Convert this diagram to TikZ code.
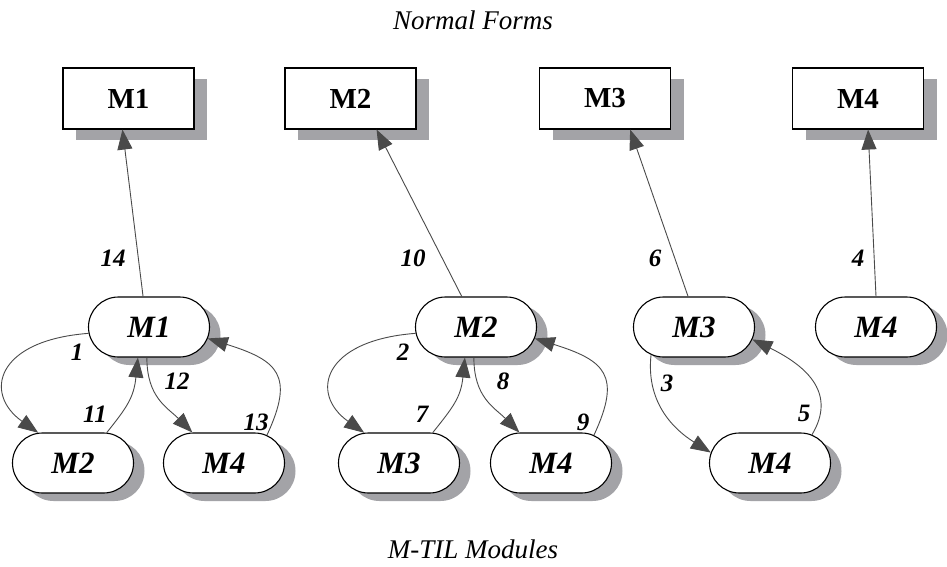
\documentclass[tikz,border=0pt]{standalone}
\usepackage{fontspec}
\setmainfont{Liberation Serif}
\usetikzlibrary{shapes.misc,shadows,arrows.meta}

\definecolor{shadowgray}{HTML}{A3A3A7}
\definecolor{linkgray}{HTML}{4A4A4A}

\tikzset{
  formbox/.style={rectangle, draw=black, line width=1.1pt, fill=white,
    minimum width=131pt, minimum height=61pt, inner sep=0pt,
    font=\fontsize{29}{31}\selectfont\bfseries,
    drop shadow={shadow xshift=13pt, shadow yshift=-11pt, fill=shadowgray, opacity=1}},
  modnode/.style={rounded rectangle, draw=black, line width=1.1pt, fill=white,
    minimum width=121pt, minimum height=60pt, inner sep=0pt,
    font=\fontsize{31}{33}\selectfont\bfseries\itshape,
    drop shadow={shadow xshift=11pt, shadow yshift=-8pt, fill=shadowgray, opacity=1}},
  steplabel/.style={font=\fontsize{25}{27}\selectfont\bfseries\itshape, inner sep=1pt},
  caption/.style={font=\fontsize{27}{29}\selectfont\itshape},
  link/.style={draw=linkgray, line width=0.9pt,
    -{Triangle[length=20pt, width=15pt]}, color=linkgray},
}

\begin{document}
\begin{tikzpicture}[x=1pt, y=-1pt]
  \useasboundingbox (0,0) rectangle (947,567);

  % captions
  \node[caption] (topcap) at (473,20) {Normal Forms};
  \node[caption] (botcap) at (473,549) {M-TIL Modules};

  % normal forms
  \node[formbox] (B1) at (128.5,98.5) {M1};
  \node[formbox] (B2) at (350.5,98.5) {M2};
  \node[formbox] (B3) at (605,98.5) {M3};
  \node[formbox] (B4) at (858,98.5) {M4};

  % first module tree
  \node[modnode] (A1) at (149,327) {M1};
  \node[modnode] (A2) at (73,463) {M2};
  \node[modnode] (A4) at (224,463) {M4};

  % second module tree
  \node[modnode] (C2) at (476,327) {M2};
  \node[modnode] (C3) at (399,463) {M3};
  \node[modnode] (C4) at (551,463) {M4};

  % third module tree
  \node[modnode] (D3) at (694,327) {M3};
  \node[modnode] (D4) at (770,463) {M4};

  % single module
  \node[modnode] (E4) at (876,327) {M4};

  % links to the normal forms
  \draw[link] (A1.101) -- (B1.259);
  \draw[link] (C2.115) -- (B2.310.5);
  \draw[link] (D3.101) -- (B3.309);
  \draw[link] (E4.90) -- (B4.288);

  % first tree
  \draw[link] (A1.186) .. controls +(-93,7) and +(-55,-39) .. (A2.139);
  \draw[link] (A2.42) .. controls +(20,-25) and +(-4,40) .. (A1.250);
  \draw[link] (A1.266) .. controls +(0,40) and +(-25,-25) .. (A4.136);
  \draw[link] (A4.33) .. controls +(28,-60) and +(70,22) .. (A1.349);

  % second tree
  \draw[link] (C2.186) .. controls +(-93,7) and +(-55,-39) .. (C3.139);
  \draw[link] (C3.42) .. controls +(20,-25) and +(-4,40) .. (C2.250);
  \draw[link] (C2.266) .. controls +(0,40) and +(-25,-25) .. (C4.136);
  \draw[link] (C4.33) .. controls +(28,-60) and +(70,22) .. (C2.349);

  % third tree
  \draw[link] (D3.213) .. controls +(-5,45) and +(-40,-25) .. (D4.170);
  \draw[link] (D4.34) .. controls +(24,-40) and +(57,28) .. (D3.348);

  % step numbers
  \node[steplabel] (n14) at (113,258) {14};
  \node[steplabel] (n10) at (413,258) {10};
  \node[steplabel] (n6) at (655,258) {6};
  \node[steplabel] (n4) at (858,258) {4};
  \node[steplabel] (n1) at (77,352) {1};
  \node[steplabel] (n11) at (95,414) {11};
  \node[steplabel] (n12) at (177,381) {12};
  \node[steplabel] (n13) at (256,422) {13};
  \node[steplabel] (n2) at (403,352) {2};
  \node[steplabel] (n7) at (422,414) {7};
  \node[steplabel] (n8) at (503,381) {8};
  \node[steplabel] (n9) at (583,422) {9};
  \node[steplabel] (n3) at (667,383) {3};
  \node[steplabel] (n5) at (804,413) {5};
\end{tikzpicture}
\end{document}
